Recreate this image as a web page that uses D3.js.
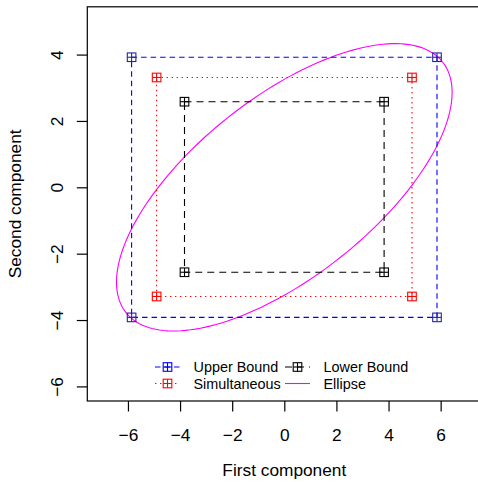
<!DOCTYPE html>
<html><head><meta charset="utf-8">
<script src="https://cdn.jsdelivr.net/npm/d3@7"></script>
<style>body{margin:0;background:#fff}svg{display:block}text{font-family:"Liberation Sans",Arial,sans-serif}</style>
</head><body><div id="chart"></div>
<script>
// ---- data ----
const xTicks = [-6,-4,-2,0,2,4,6];
const yTicks = [-6,-4,-2,0,2,4];
const xLim = [-7,7];
const yLim = [-6,5];
const upperX = [-5.86, 5.86, 5.86, -5.86];
const upperY = [3.92, 3.92, -3.92, -3.92];
const simulX = [-4.9, 4.9, 4.9, -4.9];
const simulY = [3.31, 3.31, -3.29, -3.29];
const lowerX = [-3.83, 3.83, 3.83, -3.83];
const lowerY = [2.58, 2.58, -2.56, -2.56];
// ellipse: centre, half-extent in x, half-extent in y, correlation-like cosine
const ellipseCenter = [0, 0];
const ellipseHalfX = 6.44;
const ellipseHalfY = 4.33;
const ellipseCos = 0.66;
const legendLabels = ["Upper Bound","Lower Bound","Simultaneous","Ellipse"];

(function(){
const W=478,H=482;
const pL=87.3, pR=481.3, pT=6.8, pB=401;
const ext = v => { const d=(v[1]-v[0])*0.04; return [v[0]-d, v[1]+d]; };
const x = d3.scaleLinear().domain(ext(xLim)).range([pL,pR]);
const y = d3.scaleLinear().domain(ext(yLim)).range([pB,pT]);

const svg = d3.select("#chart").append("svg").attr("width",W).attr("height",H);

svg.append("rect").attr("x",pL).attr("y",pT).attr("width",pR-pL).attr("height",pB-pT)
  .attr("fill","none").attr("stroke","#000").attr("stroke-width",1.2);

const fmt = d=>String(d).replace("-","\u2212");
const xa = svg.append("g").attr("transform",`translate(0,${pB})`)
  .call(d3.axisBottom(x).tickValues(xTicks).tickSize(10.5).tickPadding(0).tickFormat(fmt));
xa.select(".domain").remove();
xa.selectAll("line").attr("stroke-width",1.2);
xa.selectAll("text").attr("font-size",17.3).attr("fill","#000").attr("dy",null).attr("y",39.5);

const ya = svg.append("g").attr("transform",`translate(${pL},0)`)
  .call(d3.axisLeft(y).tickValues(yTicks).tickSize(10.5).tickFormat(fmt));
ya.select(".domain").remove();
ya.selectAll("line").attr("stroke-width",1.2);
ya.selectAll("text").attr("font-size",17.3).attr("fill","#000")
  .attr("x",null).attr("dy",null).attr("text-anchor","middle")
  .attr("transform","translate(-24.5,0) rotate(-90)");

svg.append("text").attr("x",(pL+pR)/2).attr("y",476).attr("text-anchor","middle")
  .attr("font-size",17.3).text("First component");
svg.append("text").attr("transform",`translate(21,${(pT+pB)/2}) rotate(-90)`).attr("text-anchor","middle")
  .attr("font-size",17.3).text("Second component");

const sinP = Math.sqrt(1-ellipseCos*ellipseCos);
const ellPts = d3.range(0,361,2).map(a=>{const t=a*Math.PI/180;
  return [ellipseCenter[0]+ellipseHalfX*Math.cos(t), ellipseCenter[1]+ellipseHalfY*(Math.cos(t)*ellipseCos+Math.sin(t)*sinP)];});
const line = d3.line().x(d=>x(d[0])).y(d=>y(d[1]));
svg.append("path").attr("d",line(ellPts)+"Z").attr("fill","none").attr("stroke","#ff00ff").attr("stroke-width",1.1);

function marker(g,cx,cy,col){
  const s=4.3;
  g.append("rect").attr("x",cx-s).attr("y",cy-s).attr("width",2*s).attr("height",2*s)
    .attr("fill","none").attr("stroke",col).attr("stroke-width",1.1);
  g.append("line").attr("x1",cx-s).attr("x2",cx+s).attr("y1",cy).attr("y2",cy).attr("stroke",col).attr("stroke-width",1.1);
  g.append("line").attr("x1",cx).attr("x2",cx).attr("y1",cy-s).attr("y2",cy+s).attr("stroke",col).attr("stroke-width",1.1);
}
const series = [
  {xs:upperX, ys:upperY, col:"#0000ff", mcol:"#26269a", dash:"5.5,4"},
  {xs:simulX, ys:simulY, col:"#ff0000", mcol:"#ff0000", dash:"1.4,3.6"},
  {xs:lowerX, ys:lowerY, col:"#000000", mcol:"#000000", dash:"7,5"}
];
series.forEach(s=>{
  const pts = s.xs.map((v,i)=>[v,s.ys[i]]);
  svg.append("path").attr("d",line(pts)+"Z").attr("fill","none").attr("stroke",s.col)
    .attr("stroke-width",1.1).attr("stroke-dasharray",s.dash);
  const g=svg.append("g");
  pts.forEach(p=>marker(g,x(p[0]),y(p[1]),s.mcol));
});

const leg = svg.append("g");
const legItems = [
  {lab:legendLabels[0], col:"#0000ff", dash:"5.5,4", mk:true, lx:155, ty:367},
  {lab:legendLabels[1], col:"#000000", dash:"7,5", mk:true, lx:285, ty:367},
  {lab:legendLabels[2], col:"#ff0000", dash:"1.4,3.6", mk:true, lx:155, ty:383.5},
  {lab:legendLabels[3], col:"#ff00ff", dash:null, mk:false, lx:285, ty:383.5}
];
legItems.forEach(it=>{
  const l=leg.append("line").attr("x1",it.lx).attr("x2",it.lx+25).attr("y1",it.ty).attr("y2",it.ty)
    .attr("stroke",it.col).attr("stroke-width",1.1);
  if(it.dash) l.attr("stroke-dasharray",it.dash);
  if(it.mk) marker(leg,it.lx+12.5,it.ty,it.col);
  leg.append("text").attr("x",it.lx+38.5).attr("y",it.ty+5.2).attr("font-size",14.4).text(it.lab);
});
})();
</script></body></html>
